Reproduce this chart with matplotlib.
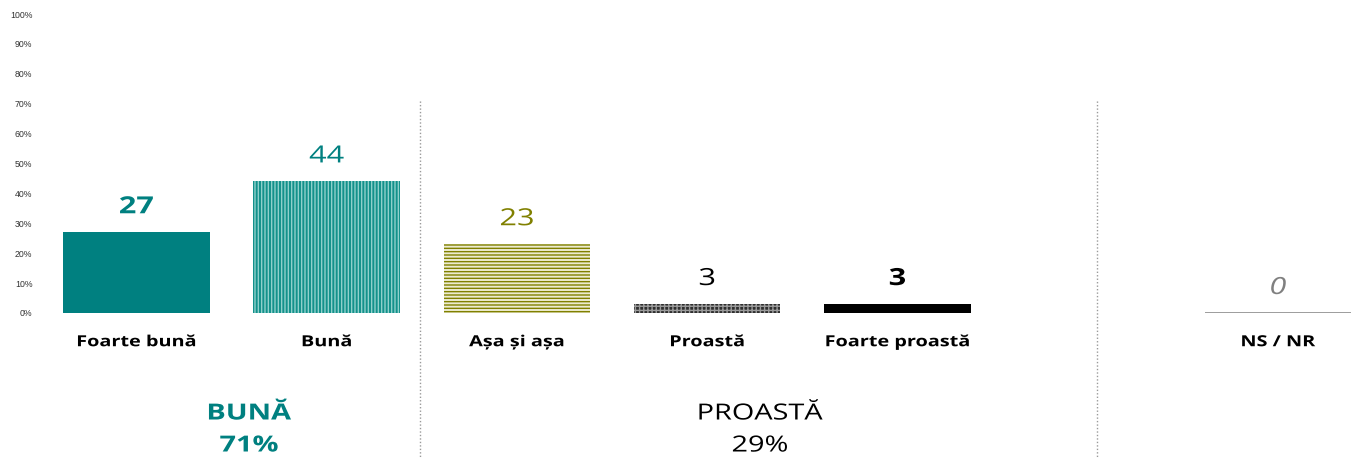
import matplotlib

matplotlib.use("Agg")
import matplotlib.pyplot as plt
from matplotlib.patheffects import AbstractPathEffect
from matplotlib.transforms import Affine2D

plt.rcParams["font.family"] = ["Open Sans", "DejaVu Sans"]
plt.rcParams["hatch.linewidth"] = 1.0

# ── Data ──────────────────────────────────────────────────────────────
categories = ["Foarte bună", "Bună", "Așa și așa", "Proastă", "Foarte proastă", "NS / NR"]
positions = [0, 1, 2, 3, 4, 6]
values = [27, 44, 23, 3, 3, 0]
yticks = [0, 10, 20, 30, 40, 50, 60, 70, 80, 90, 100]
group_names = ["BUNĂ", "PROASTĂ"]
group_totals = [71, 29]

TEAL = "#008080"
OLIVE = "#808000"

bar_styles = [
    dict(facecolor=TEAL, edgecolor=TEAL, hatch=None),
    dict(facecolor="#13918b", edgecolor="#8fd0cb", hatch="|||||"),
    dict(facecolor="#ecebd0", edgecolor=OLIVE, hatch="-----"),
    dict(facecolor="#2e2e2e", edgecolor="#9a9a9a", hatch="++++"),
    dict(facecolor="black", edgecolor="black", hatch=None),
    dict(facecolor="none", edgecolor="#8c8c8c", hatch=None),
]
label_styles = [
    dict(color=TEAL, fontweight="bold", style="normal"),
    dict(color=TEAL, fontweight="normal", style="normal"),
    dict(color=OLIVE, fontweight="normal", style="normal"),
    dict(color="black", fontweight="normal", style="normal"),
    dict(color="black", fontweight="bold", style="normal"),
    dict(color="#808080", fontweight="normal", style="italic"),
]


class Stretch(AbstractPathEffect):
    """Widen text horizontally around its centre (the source slide is stretched)."""

    def __init__(self, sx=1.3):
        super().__init__()
        self.sx = sx

    def draw_path(self, renderer, gc, tpath, affine, rgbFace=None):
        ext = tpath.get_extents()
        cx = (ext.x0 + ext.x1) / 2
        pre = Affine2D().translate(-cx, 0).scale(self.sx, 1).translate(cx, 0)
        renderer.draw_path(gc, tpath, pre + affine, rgbFace)


WIDE = [Stretch(1.3)]

W, H = 1356, 459
fig = plt.figure(figsize=(W / 100, H / 100), dpi=100)
ax = fig.add_axes([38 / W, (H - 313) / H, 1 - 38 / W, 299 / H])

for pos, val, sty, lab in zip(positions, values, bar_styles, label_styles):
    ax.bar(pos, val, width=0.77, linewidth=0 if val else 1.2, **sty)
    ax.annotate(
        f"{val}",
        (pos, val),
        xytext=(0, 18),
        textcoords="offset points",
        ha="center",
        va="center",
        fontsize=17,
        path_effects=WIDE,
        **lab,
    )

ax.set_xlim(-0.517, 6.41)
ax.set_ylim(0, 100)
ax.set_yticks(yticks)
ax.set_yticklabels([f"{t}%" for t in yticks], fontsize=6.3, color="#333333", family="Liberation Sans")
ax.set_xticks(positions)
ax.set_xticklabels(categories, fontsize=11, fontweight="bold")
for t in ax.get_xticklabels():
    t.set_path_effects(WIDE)
ax.tick_params(axis="both", length=0)
ax.tick_params(axis="x", pad=16)
ax.tick_params(axis="y", pad=4)
for s in ax.spines.values():
    s.set_visible(False)

# dotted separators
for xsep in (1.493, 5.05):
    ax.axvline(xsep, ymin=-0.49, ymax=0.712, color="#9a9a9a", linestyle=(0, (1, 1.5)),
               linewidth=1, clip_on=False)

# group totals
group_x = [249, 760]
group_colors = [TEAL, "black"]
group_weights = ["bold", "normal"]
for gx, name, tot, c, w in zip(group_x, group_names, group_totals, group_colors, group_weights):
    fig.text(gx / W, 1 - 414 / H, name, ha="center", va="center", fontsize=16, color=c,
             fontweight=w, path_effects=WIDE)
    fig.text(gx / W, 1 - 446 / H, f"{tot}%", ha="center", va="center", fontsize=16, color=c,
             fontweight=w, path_effects=WIDE)

fig.savefig("out.png", dpi=100)
